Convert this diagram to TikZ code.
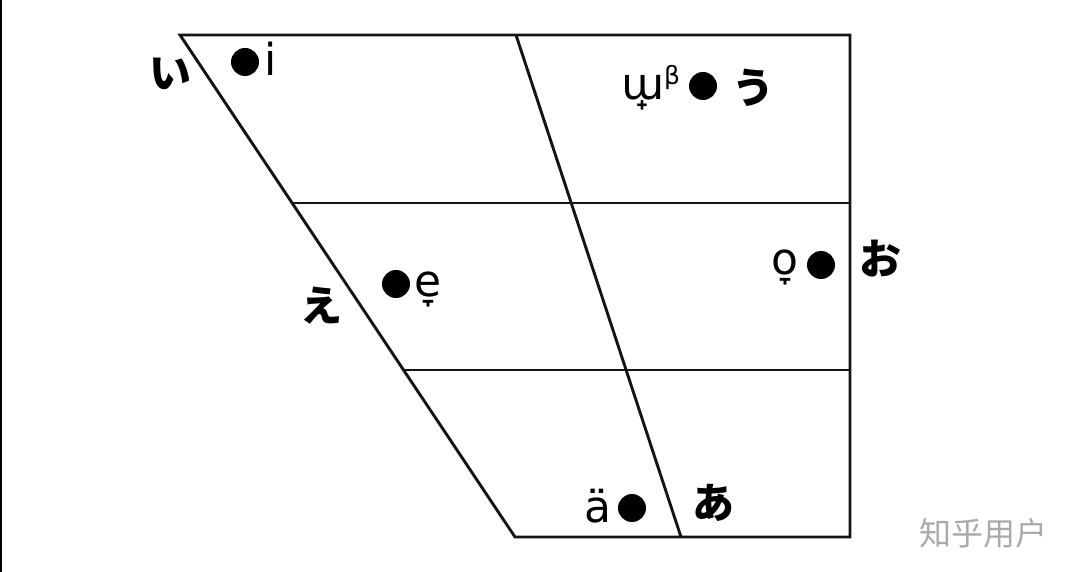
\documentclass[tikz,border=0pt]{standalone}
\usepackage{fontspec}
\newfontfamily\ipafont{DejaVu Sans}
\newfontfamily\jpfont{Noto Sans CJK JP}
\newfontfamily\scfont{Noto Sans CJK SC}
\begin{document}
\begin{tikzpicture}[x=1pt,y=-1pt,
  frame/.style={line width=2.9pt,draw={rgb,255:red,20;green,20;blue,20}},
  vdot/.style={circle,fill=black,inner sep=0pt,minimum size=28pt},
  ipa/.style={inner sep=0pt,font=\ipafont\fontsize{44}{44}\selectfont},
  kana/.style={inner sep=0pt,anchor=center,font=\jpfont\bfseries\fontsize{42}{42}\selectfont},
  wm/.style={inner sep=0pt,anchor=center,text={rgb,255:red,170;green,170;blue,170},font=\scfont\fontsize{32}{32}\selectfont}]
\useasboundingbox (0,0) rectangle (1080,572);
\fill[white] (0,0) rectangle (1080,572);
\draw[line width=1.5pt] (0.75,0) -- (0.75,572);
% frame corners
\coordinate (TL) at (180,35);
\coordinate (TM) at (516,35);
\coordinate (TR) at (850,35);
\coordinate (BL) at (515,537);
\coordinate (BM) at (681,537);
\coordinate (BR) at (850,537);
\coordinate (L1) at (292,203);
\coordinate (R1) at (850,203);
\coordinate (L2) at (404,370);
\coordinate (R2) at (850,370);
\draw[frame,line join=miter] (TL) -- (TR) -- (BR) -- (BL) -- cycle;
\draw[frame] (TM) -- (BM);
\draw[frame] (L1) -- (R1);
\draw[frame] (L2) -- (R2);
% dots
\node[vdot] (di) at (245,62) {};
\node[vdot] (du) at (703,86) {};
\node[vdot] (de) at (396,284) {};
\node[vdot] (do) at (821,265) {};
\node[vdot] (da) at (632,508) {};
% IPA labels
\node[ipa,anchor=base west] (ti) at (264,76) {i};
\node[ipa,anchor=base west] (tu) at (621,100) {ɯ̟\raisebox{15pt}{\fontsize{25}{25}\selectfont β}};
\node[ipa,anchor=base west] (te) at (414,297) {e̞};
\node[ipa,anchor=base east] (to) at (799,275) {o̞};
\node[ipa,anchor=base east] (ta) at (612,522) {ä};
% kana
\node[kana] (ki) at (170,74) {い};
\node[kana] (ku) at (753,88) {う};
\node[kana] (ke) at (321,306) {え};
\node[kana] (ko) at (880,259) {お};
\node[kana] (ka) at (713,503) {あ};
% watermark
\node[wm] (wmk) at (983,533) {知乎用户};
\end{tikzpicture}
\end{document}
